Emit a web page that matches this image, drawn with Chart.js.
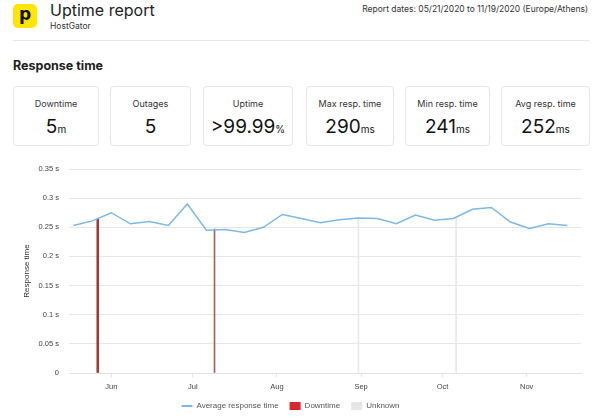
<!DOCTYPE html>
<html>
<head>
<meta charset="utf-8">
<script src="https://cdn.jsdelivr.net/npm/chart.js@4.4.0/dist/chart.umd.min.js"></script>
<style>
  body { margin: 0; width: 605px; height: 418px; background: #fff; position: relative; overflow: hidden; font-family: Inter, "Liberation Sans", sans-serif; color: #222; }
  .abs { position: absolute; }
  .logo { left: 13px; top: 4px; width: 24px; height: 24px; background: #ffe600; border-radius: 5px; text-align: center; font: 900 17px/21px "DejaVu Sans", sans-serif; color: #111; }
  .title { left: 50px; top: 0px; font-size: 16px; }
  .sub { left: 50px; top: 21px; font-size: 8.5px; color: #333; }
  .dates { right: 17px; top: 4px; font-size: 8.5px; color: #333; }
  .rule { left: 13px; top: 40px; width: 577px; height: 1px; background: #e9e9e9; }
  .section { left: 13px; top: 58px; font-size: 12.5px; font-weight: 700; }
  .card { top: 86px; height: 60px; border: 1px solid #e6e6e6; border-radius: 4px; box-sizing: border-box; text-align: center; }
  .card .lab { margin-top: 11px; font-size: 9px; color: #333; }
  .card .val { margin-top: 6px; font-size: 19px; color: #111; }
  .card .val small { font-size: 10px; }
  #wrap { left: 0; top: 153px; width: 605px; height: 268px; }
</style>
</head>
<body>
<div class="abs logo">p</div>
<div class="abs title">Uptime report</div>
<div class="abs sub">HostGator</div>
<div class="abs dates">Report dates: 05/21/2020 to 11/19/2020 (Europe/Athens)</div>
<div class="abs rule"></div>
<div class="abs section">Response time</div>
<div id="cards"></div>
<div class="abs" id="wrap"><canvas id="myChart"></canvas></div>
<script>
// weekly average response time (seconds)
const weekDates = [
  '2020-05-18', '2020-05-25', '2020-06-01', '2020-06-08', '2020-06-15', '2020-06-22', '2020-06-29',
  '2020-07-06', '2020-07-13', '2020-07-20', '2020-07-27', '2020-08-03', '2020-08-10', '2020-08-17',
  '2020-08-24', '2020-08-31', '2020-09-07', '2020-09-14', '2020-09-21', '2020-09-28', '2020-10-05',
  '2020-10-12', '2020-10-19', '2020-10-26', '2020-11-02', '2020-11-09', '2020-11-16'
]
const avgResponse = [
  0.253, 0.261, 0.275, 0.256, 0.260, 0.253, 0.290,
  0.245, 0.246, 0.241, 0.250, 0.272, 0.265, 0.258,
  0.263, 0.266, 0.265, 0.256, 0.271, 0.262, 0.265,
  0.281, 0.284, 0.259, 0.248, 0.256, 0.253
]
const downtimeDates = ['2020-05-27', '2020-07-09']
const downtimeValues = [0.264, 0.247]
const unknownDates = ['2020-08-31', '2020-10-06']
const unknownValues = [0.266, 0.2655]

const monthTicks = ['2020-06-01', '2020-07-01', '2020-08-01', '2020-09-01', '2020-10-01', '2020-11-01']
const monthLabels = ['Jun', 'Jul', 'Aug', 'Sep', 'Oct', 'Nov']
const yTicks = [0, 0.05, 0.1, 0.15, 0.2, 0.25, 0.3, 0.35]

const cardLabels = ['Downtime', 'Outages', 'Uptime', 'Max resp. time', 'Min resp. time', 'Avg resp. time']
const cardValues = ['5', '5', '>99.99', '290', '241', '252']
const cardUnits = ['m', '', '%', 'ms', 'ms', 'ms']
const cardBoxes = [[13, 86], [110, 81], [203, 90], [306, 88], [405, 85], [501, 89]]

// cards
const cards = document.getElementById('cards')
cardLabels.forEach((l, i) => {
  const d = document.createElement('div')
  d.className = 'abs card'
  d.style.left = cardBoxes[i][0] + 'px'
  d.style.width = cardBoxes[i][1] + 'px'
  d.innerHTML = '<div class="lab">' + l + '</div><div class="val">' + cardValues[i] + '<small>' + cardUnits[i] + '</small></div>'
  cards.appendChild(d)
})

// days since 2020-05-18
const base = Date.UTC(2020, 4, 18)
function day(s) {
  const p = s.split('-')
  return (Date.UTC(+p[0], +p[1] - 1, +p[2]) - base) / 86400000
}
const pts = (dates, vals) => dates.map((d, i) => ({ x: day(d), y: vals[i] }))

const fam = '"Liberation Sans", Arial, sans-serif'
const chartFont = { family: fam, size: 7.5 }

const ctx = document.getElementById('myChart')
const myChart = new Chart(ctx, {
  type: 'bar',
  data: {
    datasets: [{
      type: 'line',
      label: 'Average response time',
      data: pts(weekDates, avgResponse),
      borderColor: '#7cb9e8',
      backgroundColor: '#7cb9e8',
      borderWidth: 1.5,
      pointRadius: 0,
      pointStyle: 'line',
      tension: 0,
      order: 0
    }, {
      label: 'Downtime',
      data: pts(downtimeDates.slice(0, 1), downtimeValues.slice(0, 1)),
      backgroundColor: '#9c3f3c',
      barThickness: 2,
      grouped: false,
      order: 1
    }, {
      label: 'Downtime2',
      data: pts(downtimeDates.slice(1), downtimeValues.slice(1)),
      backgroundColor: '#a8605b',
      barThickness: 1,
      grouped: false,
      order: 1
    }, {
      label: 'Unknown',
      data: pts(unknownDates, unknownValues),
      backgroundColor: '#e8e8e8',
      barThickness: 1,
      grouped: false,
      order: 2
    }]
  },
  options: {
    animation: false,
    responsive: true,
    maintainAspectRatio: false,
    layout: { padding: { top: 16, right: 24, left: 0, bottom: 0 } },
    scales: {
      x: {
        type: 'linear',
        min: -1.6,
        max: 187,
        offset: false,
        afterBuildTicks: s => { s.ticks = monthTicks.map(m => ({ value: day(m) })) },
        afterFit: s => { s.height = 18 },
        ticks: {
          font: chartFont,
          color: '#444',
          padding: 5,
          maxRotation: 0,
          callback: (v) => monthLabels[monthTicks.findIndex(m => day(m) === v)]
        },
        grid: { offset: false, drawOnChartArea: false, tickLength: 4, color: '#e3e3e3' },
        border: { color: '#e3e3e3' }
      },
      y: {
        min: 0,
        max: 0.35,
        afterBuildTicks: s => { s.ticks = yTicks.map(v => ({ value: v })) },
        afterFit: s => { s.width = 69 },
        ticks: {
          font: chartFont,
          color: '#444',
          padding: 10,
          callback: v => v === 0 ? '0' : (+v.toFixed(2)) + ' s'
        },
        grid: { color: '#e6e6e6', drawTicks: false },
        border: { display: false },
        title: {
          display: true,
          text: 'Response time',
          font: { family: fam, size: 8 },
          color: '#333',
          padding: { top: 22, bottom: 0 }
        }
      }
    },
    plugins: {
      tooltip: { enabled: false },
      legend: {
        position: 'bottom',
        labels: {
          font: { family: fam, size: 8 },
          color: '#555',
          usePointStyle: true,
          pointStyleWidth: 11,
          boxWidth: 11,
          boxHeight: 8,
          padding: 11,
          filter: item => item.text !== 'Downtime2',
          generateLabels: chart => {
            const items = Chart.defaults.plugins.legend.labels.generateLabels(chart)
            items.forEach(it => {
              if (it.text === 'Average response time') { it.pointStyle = 'line'; it.strokeStyle = '#7cb9e8'; it.lineWidth = 2 }
              if (it.text === 'Downtime') { it.pointStyle = 'rect'; it.fillStyle = '#d9262c'; it.strokeStyle = '#d9262c'; it.lineWidth = 0 }
              if (it.text === 'Unknown') { it.pointStyle = 'rect'; it.fillStyle = '#e6e6e6'; it.strokeStyle = '#e6e6e6'; it.lineWidth = 0 }
            })
            return items
          }
        }
      }
    }
  }
})

// squeeze the legend box so the plot sits lower
const legendFit = myChart.legend.fit
myChart.legend.fit = function () {
  legendFit.call(this)
  this.height = 30
}
myChart.update()
</script>
</body>
</html>
